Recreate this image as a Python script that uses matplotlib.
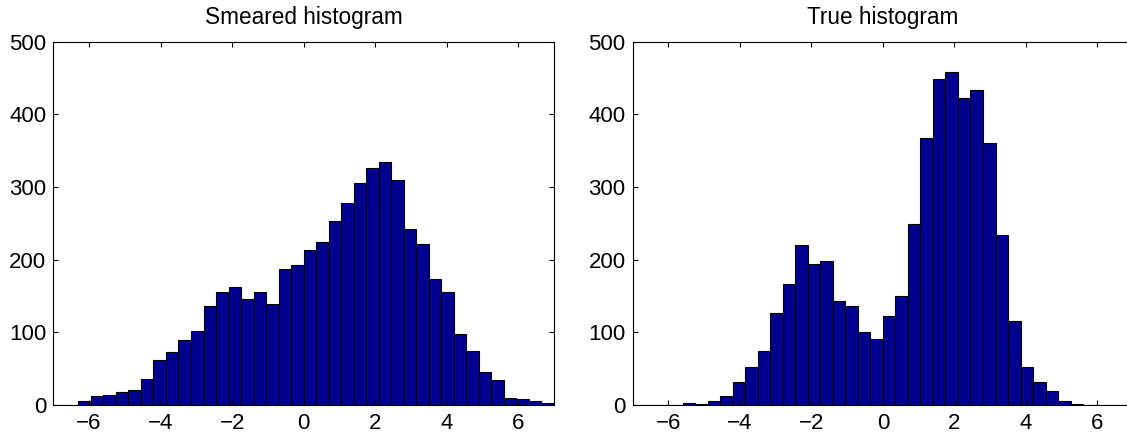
import numpy as np
import matplotlib
matplotlib.use("Agg")
import matplotlib.pyplot as plt

plt.rcParams['font.family'] = ['Liberation Sans', 'DejaVu Sans']

# 40 bins of width 0.35 spanning -7 .. 7
bin_lo, bin_hi, n_bins = -7.0, 7.0, 40

smeared_counts = [0, 0, 6, 13, 14, 18, 20, 36, 62, 73,
                  90, 102, 136, 155, 163, 146, 156, 139, 187, 192,
                  214, 225, 253, 278, 305, 326, 334, 310, 242, 222,
                  174, 155, 98, 75, 46, 34, 10, 8, 6, 3]

true_counts = [0, 0, 0, 0, 3, 2, 6, 12, 31, 52,
               75, 127, 166, 220, 194, 198, 143, 136, 100, 91,
               122, 150, 249, 367, 449, 458, 422, 433, 360, 234,
               115, 52, 32, 19, 6, 2, 0, 0, 0, 0]

titles = ["Smeared histogram", "True histogram"]
x_ticks = [-6, -4, -2, 0, 2, 4, 6]
y_ticks = [0, 100, 200, 300, 400, 500]

edges = np.linspace(bin_lo, bin_hi, n_bins + 1)
width = edges[1] - edges[0]

fig = plt.figure(figsize=(11.27, 4.42), dpi=100)
W, H = 1127, 442
positions = [
    [53.3 / W, (H - 405) / H, 500.7 / W, 363.3 / H],
    [632.5 / W, (H - 405) / H, 500.7 / W, 363.3 / H],
]

for pos, counts, title in zip(positions, [smeared_counts, true_counts], titles):
    ax = fig.add_axes(pos)
    ax.bar(edges[:-1], counts, width=width, align='edge',
           color='#00008F', edgecolor='black', linewidth=0.8)
    ax.set_xlim(bin_lo, bin_hi)
    ax.set_ylim(0, 500)
    ax.set_xticks(x_ticks)
    ax.set_yticks(y_ticks)
    ax.tick_params(direction='in', top=True, right=True, length=3.5,
                   width=0.8, labelsize=16, pad=5)
    ax.tick_params(axis='x', pad=6)
    for s in ax.spines.values():
        s.set_linewidth(0.8)
    ax.set_title(title, fontsize=16.3, pad=13)

fig.savefig("out.png", dpi=100)
